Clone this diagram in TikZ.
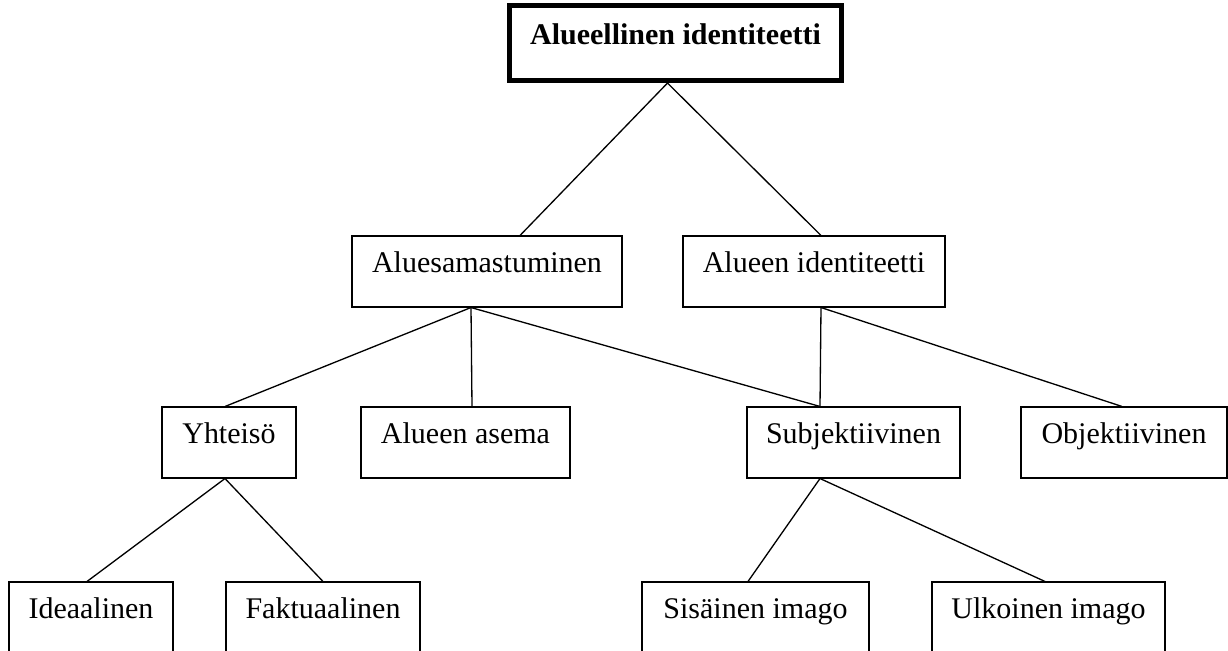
\documentclass[tikz,border=0pt]{standalone}
\usepackage{fontspec}
\setmainfont{Liberation Serif}
\usepackage{tikz}
\tikzset{>=latex}
\tikzset{
    box/.style={draw=black, line width=0.6pt, inner xsep=0pt, inner ysep=0pt,
        text height=0.72cm, text depth=0.70cm, font=\fontsize{17.07}{20}\selectfont},
    topbox/.style={box, line width=2.6pt, text height=0.795cm, text depth=0.715cm,
        font=\fontsize{17.07}{20}\selectfont\bfseries},
    link/.style={line width=0.75pt}
}

\begin{document}
\begin{tikzpicture}[]

    \useasboundingbox (0, 0) rectangle (24.56, -13.02);

    % Top
    \node[topbox, minimum width=6.65cm] (alue) at (13.51, -0.86) {Alueellinen identiteetti};

    % Second row
    \node[box, minimum width=5.40cm] (sam) at (9.74, -5.43) {Aluesamastuminen};
    \node[box, minimum width=5.24cm] (aid) at (16.28, -5.43) {Alueen identiteetti};

    % Third row
    \node[box, minimum width=2.68cm] (yht) at (4.58, -8.85) {Yhteisö};
    \node[box, minimum width=4.18cm] (ase) at (9.31, -8.85) {Alueen asema};
    \node[box, minimum width=4.26cm] (sub) at (17.07, -8.85) {Subjektiivinen};
    \node[box, minimum width=4.12cm] (obj) at (22.48, -8.85) {Objektiivinen};

    % Fourth row
    \node[box, minimum width=3.28cm] (ide) at (1.82, -12.35) {Ideaalinen};
    \node[box, minimum width=3.88cm] (fak) at (6.46, -12.35) {Faktuaalinen};
    \node[box, minimum width=4.54cm] (sis) at (15.11, -12.35) {Sisäinen imago};
    \node[box, minimum width=4.66cm] (ulk) at (20.97, -12.35) {Ulkoinen imago};

    % Links
    \draw[link] ([xshift=0.66cm]sam.north) -- ([xshift=-0.16cm]alue.south) -- ([xshift=0.14cm]aid.north);

    \foreach \n/\s in {yht/-0.08, ase/0.13, sub/-0.67}{
            \draw[link] ([xshift=-0.32cm]sam.south) -- ([xshift=\s cm]\n.north);
        }
    \foreach \n/\s in {sub/-0.67, obj/-0.04}{
            \draw[link] ([xshift=0.14cm]aid.south) -- ([xshift=\s cm]\n.north);
        }

    \draw[link] ([xshift=-0.08cm]ide.north) -- ([xshift=-0.08cm]yht.south) -- (fak.north);
    \draw[link] ([xshift=-0.15cm]sis.north) -- ([xshift=-0.67cm]sub.south) -- ([xshift=-0.07cm]ulk.north);

\end{tikzpicture}
\end{document}
